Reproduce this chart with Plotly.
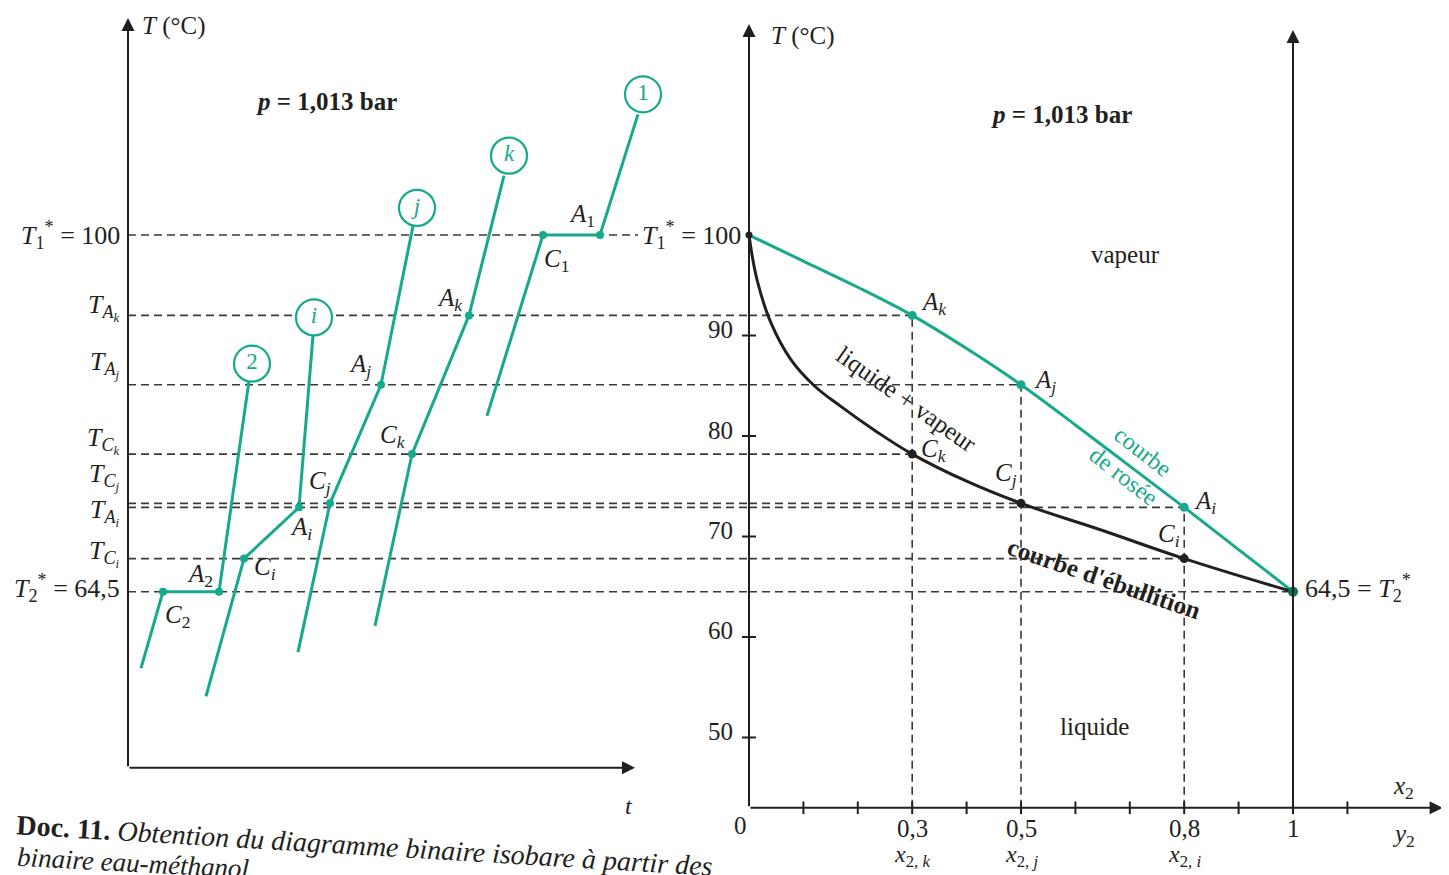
import plotly.graph_objects as go

TEAL = "#17a98c"
INK = "#231f20"
DASH = "#3a3a3a"
FONT = "Liberation Serif, Times New Roman, serif"

# ---------------- data (temperatures in °C) ----------------
T1_STAR = 100.0      # water
T2_STAR = 64.5       # methanol
T_AK, T_AJ, T_AI = 92.0, 85.1, 72.9   # dew temperatures (A points)
T_CK, T_CJ, T_CI = 78.2, 73.3, 67.8   # bubble temperatures (C points)

X2_K, X2_J, X2_I = 0.3, 0.5, 0.8      # mole fractions of methanol

# cooling curves: [start, A, C, end]  (t in arbitrary units)
cool_1_t = [5.10, 4.72, 4.15, 3.59]
cool_1_T = [112.0, T1_STAR, T1_STAR, 82.0]
cool_2_t = [1.21, 0.91, 0.35, 0.13]
cool_2_T = [85.5, T2_STAR, T2_STAR, 56.9]
cool_i_t = [1.85, 1.71, 1.16, 0.78]
cool_i_T = [90.0, T_AI, T_CI, 54.1]
cool_j_t = [2.85, 2.53, 2.02, 1.70]
cool_j_T = [100.9, T_AJ, T_CJ, 58.5]
cool_k_t = [3.76, 3.41, 2.84, 2.47]
cool_k_T = [105.9, T_AK, T_CK, 61.1]

circle_t = [5.15, 3.81, 2.89, 1.86, 1.24]
circle_T = [114.0, 107.9, 102.7, 91.8, 87.2]
circle_lbl = ["1", "<i>k</i>", "<i>j</i>", "<i>i</i>", "2"]

# isobaric binary diagram
dew_x2 = [0.0, 0.1, 0.2, 0.3, 0.4, 0.5, 0.6, 0.7, 0.8, 0.9, 1.0]
dew_T = [100.0, 97.4, 94.8, 92.0, 88.7, 85.1, 81.1, 77.0, 72.9, 68.7, 64.5]
bub_x2 = [0.0, 0.015, 0.04, 0.077, 0.12, 0.17, 0.23, 0.3, 0.4, 0.5, 0.65, 0.8, 1.0]
bub_T = [100.0, 95.5, 91.3, 87.6, 85.0, 82.9, 80.6, 78.2, 75.5, 73.3, 70.6, 67.8, 64.5]

T_TICKS = [50, 60, 70, 80, 90]
X2_TICKS = [0.1, 0.2, 0.3, 0.4, 0.5, 0.6, 0.7, 0.8, 0.9, 1.0, 1.1]
X2_TICK_LABELS = {0.3: ("0,3", "<i>x</i><sub>2, <i>k</i></sub>"),
                  0.5: ("0,5", "<i>x</i><sub>2, <i>j</i></sub>"),
                  0.8: ("0,8", "<i>x</i><sub>2, <i>i</i></sub>"),
                  1.0: ("1", "")}

# ---------------- layout constants ----------------
W, H = 1449, 875
XL0, XL1 = 120 / W, 642 / W
XR0, XR1 = 741 / W, 1.0
T_AXIS_L = 47.0
T_AXIS_R = 43.0

fig = go.Figure()

def seg(t, T, color, ax="x", width=3, shape="linear"):
    fig.add_trace(go.Scatter(x=t, y=T, mode="lines", xaxis=ax, yaxis="y",
                             line=dict(color=color, width=width, shape=shape),
                             hoverinfo="skip", showlegend=False, cliponaxis=False))

def dots(x, y, color, ax="x", size=8):
    fig.add_trace(go.Scatter(x=x, y=y, mode="markers", xaxis=ax, yaxis="y",
                             marker=dict(color=color, size=size),
                             hoverinfo="skip", showlegend=False, cliponaxis=False))

# ---------------- dashed guide lines ----------------
DASHLINE = dict(color=DASH, width=1.6, dash="8px,5px")

def hdash(xref, x0, x1, y):
    fig.add_shape(type="line", xref=xref, yref="y", x0=x0, x1=x1, y0=y, y1=y,
                  line=DASHLINE, layer="below")

hdash("x", 0, 5.1, T1_STAR)
for T, x2 in [(T_AK, X2_K), (T_AJ, X2_J), (T_CK, X2_K), (T_CJ, X2_J),
              (T_AI, X2_I), (T_CI, X2_I), (T2_STAR, 1.0)]:
    hdash("paper", XL0, XR0, T)
    hdash("x2", 0, x2, T)
for x2, T in [(X2_K, T_AK), (X2_J, T_AJ), (X2_I, T_AI)]:
    fig.add_shape(type="line", xref="x2", yref="y", x0=x2, x1=x2, y0=T_AXIS_R, y1=T,
                  line=DASHLINE, layer="below")

# ---------------- cooling curves ----------------
for t, T in [(cool_1_t, cool_1_T), (cool_2_t, cool_2_T), (cool_i_t, cool_i_T),
             (cool_j_t, cool_j_T), (cool_k_t, cool_k_T)]:
    seg(t, T, TEAL)
    dots(t[1:3], T[1:3], TEAL)

fig.add_trace(go.Scatter(x=circle_t, y=circle_T, mode="markers+text", xaxis="x", yaxis="y",
                         marker=dict(symbol="circle", size=36, color="white",
                                     line=dict(color=TEAL, width=2.2)),
                         text=circle_lbl, textposition="middle center",
                         textfont=dict(family=FONT, size=23, color=TEAL),
                         hoverinfo="skip", showlegend=False, cliponaxis=False))

# ---------------- binary diagram ----------------
seg(dew_x2, dew_T, TEAL, ax="x2", width=3, shape="spline")
fig.add_trace(go.Scatter(x=bub_x2, y=bub_T, mode="lines", xaxis="x2", yaxis="y",
                         line=dict(color=INK, width=3, shape="spline", smoothing=1.2),
                         hoverinfo="skip", showlegend=False, cliponaxis=False))
dots([X2_K, X2_J, X2_I], [T_AK, T_AJ, T_AI], TEAL, ax="x2", size=9)
dots([X2_K, X2_J, X2_I], [T_CK, T_CJ, T_CI], INK, ax="x2", size=9)
dots([0.0], [T1_STAR], INK, ax="x2", size=7)
dots([1.0], [T2_STAR], "#0f6e58", ax="x2", size=10)

# axis ticks of the diagram
fig.add_trace(go.Scatter(x=[0.0] * len(T_TICKS), y=T_TICKS, mode="markers", xaxis="x2", yaxis="y",
                         marker=dict(symbol="line-ew", size=10, line=dict(color=INK, width=2)),
                         hoverinfo="skip", showlegend=False, cliponaxis=False))
fig.add_trace(go.Scatter(x=X2_TICKS, y=[T_AXIS_R] * len(X2_TICKS), mode="markers", xaxis="x2", yaxis="y",
                         marker=dict(symbol="line-ns", size=9, line=dict(color=INK, width=2)),
                         hoverinfo="skip", showlegend=False, cliponaxis=False))

# ---------------- annotations ----------------
ann = []

def arrow(xref, x, y, ax, ay):
    ann.append(dict(xref=xref, yref="y", axref=xref, ayref="y", x=x, y=y, ax=ax, ay=ay,
                    text="", showarrow=True, arrowhead=2, arrowsize=1.3, arrowwidth=2,
                    arrowcolor=INK, standoff=0, startstandoff=0))

def txt(xref, x, y, s, size=25, xanchor="center", yanchor="middle", xshift=0, yshift=0,
        color=INK, angle=0, align="center"):
    ann.append(dict(xref=xref, yref="y", x=x, y=y, text=s, showarrow=False,
                    xanchor=xanchor, yanchor=yanchor, xshift=xshift, yshift=yshift,
                    textangle=angle, align=align,
                    font=dict(family=FONT, size=size, color=color)))

# axes
arrow("x", 0, 121.6, 0, T_AXIS_L)
arrow("x", 5.07, T_AXIS_L, 0, T_AXIS_L)
arrow("x2", 0, 121.0, 0, T_AXIS_R)
arrow("x2", 1.0, 120.4, 1.0, T_AXIS_R)
arrow("x2", 1.275, T_AXIS_R, 0, T_AXIS_R)

# left panel texts
txt("x", 0, 120.8, "<i>T</i> (°C)", size=25, xanchor="left", xshift=12)
txt("x", 1.98, 113.3, "<b><i>p</i> = 1,013 bar</b>", size=25)
txt("x", 5.01, T_AXIS_L, "<i>t</i>", size=24, yshift=-38)

left_axis_labels = [
    (T1_STAR, "<i>T</i><sub>1</sub><sup>*</sup> = 100", 0),
    (T_AK, "<i>T<sub>A<sub>k</sub></sub></i>", 8),
    (T_AJ, "<i>T<sub>A<sub>j</sub></sub></i>", 20),
    (T_CK, "<i>T<sub>C<sub>k</sub></sub></i>", 14),
    (T_CJ, "<i>T<sub>C<sub>j</sub></sub></i>", 27),
    (T_AI, "<i>T<sub>A<sub>i</sub></sub></i>", -5),
    (T_CI, "<i>T<sub>C<sub>i</sub></sub></i>", 5),
    (T2_STAR, "<i>T</i><sub>2</sub><sup>*</sup> = 64,5", 4),
]
for T, s, ys in left_axis_labels:
    txt("x", 0, T, s, size=26, xanchor="right", xshift=-6, yshift=ys)

left_point_labels = [
    (cool_1_t[1], cool_1_T[1], "<i>A</i><sub>1</sub>", -18, 20),
    (cool_1_t[2], cool_1_T[2], "<i>C</i><sub>1</sub>", 13, -25),
    (cool_2_t[1], cool_2_T[1], "<i>A</i><sub>2</sub>", -19, 16),
    (cool_2_t[2], cool_2_T[2], "<i>C</i><sub>2</sub>", 14, -25),
    (cool_i_t[1], cool_i_T[1], "<i>A<sub>i</sub></i>", 2, -21),
    (cool_i_t[2], cool_i_T[2], "<i>C<sub>i</sub></i>", 21, -10),
    (cool_j_t[1], cool_j_T[1], "<i>A<sub>j</sub></i>", -21, 19),
    (cool_j_t[2], cool_j_T[2], "<i>C<sub>j</sub></i>", -10, 21),
    (cool_k_t[1], cool_k_T[1], "<i>A<sub>k</sub></i>", -19, 16),
    (cool_k_t[2], cool_k_T[2], "<i>C<sub>k</sub></i>", -19, 18),
]
for t, T, s, xs, ys in left_point_labels:
    txt("x", t, T, s, size=25, xshift=xs, yshift=ys)

# right panel texts
txt("x2", 0, 119.8, "<i>T</i> (°C)", size=25, xanchor="left", xshift=20)
txt("x2", 0.575, 112.0, "<b><i>p</i> = 1,013 bar</b>", size=25)
txt("x2", 0.693, 98.1, "vapeur", size=25)
txt("x2", 0.636, 51.1, "liquide", size=25)
txt("x2", 0.29, 83.6, "liquide + vapeur", size=25, angle=35)
txt("x2", 0.706, 77.3, "courbe<br>de rosée", size=24, angle=38, color=TEAL)
txt("x2", 0.652, 65.8, "<b>courbe d'ébullition</b>", size=25, angle=19)
txt("x2", 0, T1_STAR, "<i>T</i><sub>1</sub><sup>*</sup> = 100", size=26, xanchor="right", xshift=-6)
txt("x2", 1.0, T2_STAR, "64,5 = <i>T</i><sub>2</sub><sup>*</sup>", size=26, xanchor="left", xshift=10, yshift=4)

for T in T_TICKS:
    txt("x2", 0, T, str(T), size=25, xanchor="right", xshift=-14, yshift=6)

txt("x2", 0, T_AXIS_R, "0", size=25, xshift=-9, yshift=-18)
for x2, (num, sub) in X2_TICK_LABELS.items():
    txt("x2", x2, T_AXIS_R, num, size=25, yshift=-21)
    if sub:
        txt("x2", x2, T_AXIS_R, sub, size=24, yshift=-48)
txt("x2", 1.204, T_AXIS_R, "<i>x</i><sub>2</sub>", size=25, yshift=20)
txt("x2", 1.204, T_AXIS_R, "<i>y</i><sub>2</sub>", size=25, yshift=-28)

right_point_labels = [
    (X2_K, T_AK, "<i>A<sub>k</sub></i>", 22, 12),
    (X2_J, T_AJ, "<i>A<sub>j</sub></i>", 24, 3),
    (X2_I, T_AI, "<i>A<sub>i</sub></i>", 21, 5),
    (X2_K, T_CK, "<i>C<sub>k</sub></i>", 22, 4),
    (X2_J, T_CJ, "<i>C<sub>j</sub></i>", -15, 29),
    (X2_I, T_CI, "<i>C<sub>i</sub></i>", -15, 23),
]
for x2, T, s, xs, ys in right_point_labels:
    txt("x2", x2, T, s, size=25, xshift=xs, yshift=ys)

# caption
ann.append(dict(xref="paper", yref="paper", x=356 / W, y=1 - 837 / H, showarrow=False,
                text="<b>Doc. 11.</b> <i>Obtention du diagramme binaire isobare à partir des</i>",
                textangle=3.4, xanchor="center", yanchor="middle",
                font=dict(family=FONT, size=28, color=INK)))
ann.append(dict(xref="paper", yref="paper", x=128 / W, y=1 - 855 / H, showarrow=False,
                text="<i>binaire eau-méthanol.</i>", textangle=3.0,
                xanchor="center", yanchor="middle",
                font=dict(family=FONT, size=27, color=INK)))

fig.update_layout(
    width=W, height=H,
    margin=dict(l=0, r=0, t=0, b=0, pad=0),
    paper_bgcolor="white", plot_bgcolor="rgba(0,0,0,0)",
    showlegend=False,
    xaxis=dict(domain=[XL0, XL1], range=[0, 5.22], visible=False, anchor="y", fixedrange=True),
    xaxis2=dict(domain=[XR0, XR1], range=[0, 708 / 544], visible=False, anchor="y", fixedrange=True),
    yaxis=dict(domain=[0, 1], range=[35.52, 122.59], visible=False, fixedrange=True),
    annotations=ann,
)

fig.write_html("out.html")
